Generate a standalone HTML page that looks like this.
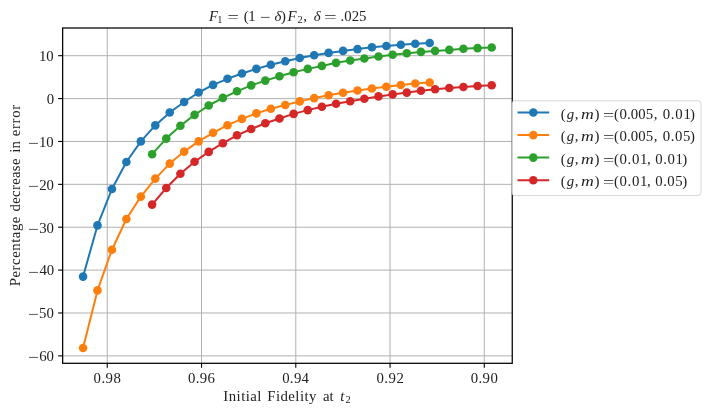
<!DOCTYPE html>
<html lang="en"><head><meta charset="utf-8"><title>Percentage decrease in error vs initial fidelity</title>
<style>
html,body{margin:0;padding:0;background:#fff;}
body{width:710px;height:413px;overflow:hidden;}
svg{display:block;will-change:transform;}
text{font-family:"Liberation Serif",serif;font-size:14.8px;fill:#222;}
.it{font-style:italic;}
.grid line{stroke:#b0b0b0;stroke-width:0.99;}
.tick line{stroke:#000;stroke-width:1.1;}
</style></head><body>
<svg width="710" height="413" viewBox="0 0 710 413">
<rect x="0" y="0" width="710" height="413" fill="#ffffff"/>
<g class="grid">
<line x1="107.27" y1="28.0" x2="107.27" y2="363.3"/>
<line x1="201.55" y1="28.0" x2="201.55" y2="363.3"/>
<line x1="295.8" y1="28.0" x2="295.8" y2="363.3"/>
<line x1="390.05" y1="28.0" x2="390.05" y2="363.3"/>
<line x1="484.3" y1="28.0" x2="484.3" y2="363.3"/>
<line x1="62.5" y1="55.7" x2="512.5" y2="55.7"/>
<line x1="62.5" y1="98.58" x2="512.5" y2="98.58"/>
<line x1="62.5" y1="141.46" x2="512.5" y2="141.46"/>
<line x1="62.5" y1="184.34" x2="512.5" y2="184.34"/>
<line x1="62.5" y1="227.22" x2="512.5" y2="227.22"/>
<line x1="62.5" y1="270.1" x2="512.5" y2="270.1"/>
<line x1="62.5" y1="312.98" x2="512.5" y2="312.98"/>
<line x1="62.5" y1="355.86" x2="512.5" y2="355.86"/>
</g>
<g class="tick">
<line x1="107.27" y1="363.3" x2="107.27" y2="367.7"/>
<line x1="201.55" y1="363.3" x2="201.55" y2="367.7"/>
<line x1="295.8" y1="363.3" x2="295.8" y2="367.7"/>
<line x1="390.05" y1="363.3" x2="390.05" y2="367.7"/>
<line x1="484.3" y1="363.3" x2="484.3" y2="367.7"/>
<line x1="58.1" y1="55.7" x2="62.5" y2="55.7"/>
<line x1="58.1" y1="98.58" x2="62.5" y2="98.58"/>
<line x1="58.1" y1="141.46" x2="62.5" y2="141.46"/>
<line x1="58.1" y1="184.34" x2="62.5" y2="184.34"/>
<line x1="58.1" y1="227.22" x2="62.5" y2="227.22"/>
<line x1="58.1" y1="270.1" x2="62.5" y2="270.1"/>
<line x1="58.1" y1="312.98" x2="62.5" y2="312.98"/>
<line x1="58.1" y1="355.86" x2="62.5" y2="355.86"/>
</g>
<g id="series">
<polyline points="83.06,276.60 97.50,225.40 111.95,189.00 126.39,162.00 140.83,141.40 155.28,125.40 169.72,112.50 184.16,102.00 198.60,92.50 213.05,84.90 227.49,78.80 241.93,73.50 256.38,68.90 270.82,64.80 285.26,61.30 299.70,58.00 314.15,55.20 328.59,52.90 343.03,50.90 357.48,49.10 371.92,47.30 386.36,46.05 400.81,44.80 415.25,43.80 429.69,43.00" fill="none" stroke="#1f77b4" stroke-width="2.0" stroke-linejoin="round" stroke-linecap="round"/>
<g fill="#1f77b4">
<circle cx="83.06" cy="276.60" r="4.3"/>
<circle cx="97.50" cy="225.40" r="4.3"/>
<circle cx="111.95" cy="189.00" r="4.3"/>
<circle cx="126.39" cy="162.00" r="4.3"/>
<circle cx="140.83" cy="141.40" r="4.3"/>
<circle cx="155.28" cy="125.40" r="4.3"/>
<circle cx="169.72" cy="112.50" r="4.3"/>
<circle cx="184.16" cy="102.00" r="4.3"/>
<circle cx="198.60" cy="92.50" r="4.3"/>
<circle cx="213.05" cy="84.90" r="4.3"/>
<circle cx="227.49" cy="78.80" r="4.3"/>
<circle cx="241.93" cy="73.50" r="4.3"/>
<circle cx="256.38" cy="68.90" r="4.3"/>
<circle cx="270.82" cy="64.80" r="4.3"/>
<circle cx="285.26" cy="61.30" r="4.3"/>
<circle cx="299.70" cy="58.00" r="4.3"/>
<circle cx="314.15" cy="55.20" r="4.3"/>
<circle cx="328.59" cy="52.90" r="4.3"/>
<circle cx="343.03" cy="50.90" r="4.3"/>
<circle cx="357.48" cy="49.10" r="4.3"/>
<circle cx="371.92" cy="47.30" r="4.3"/>
<circle cx="386.36" cy="46.05" r="4.3"/>
<circle cx="400.81" cy="44.80" r="4.3"/>
<circle cx="415.25" cy="43.80" r="4.3"/>
<circle cx="429.69" cy="43.00" r="4.3"/>
</g>
<polyline points="83.06,348.00 97.50,290.40 111.95,249.70 126.39,219.00 140.83,196.60 155.28,178.60 169.72,163.60 184.16,151.60 198.60,141.40 213.05,132.80 227.49,125.20 241.93,118.90 256.38,113.40 270.82,108.80 285.26,105.00 299.70,101.40 314.15,98.10 328.59,95.30 343.03,92.80 357.48,90.50 371.92,88.50 386.36,86.70 400.81,85.00 415.25,83.50 429.69,82.50" fill="none" stroke="#ff7f0e" stroke-width="2.0" stroke-linejoin="round" stroke-linecap="round"/>
<g fill="#ff7f0e">
<circle cx="83.06" cy="348.00" r="4.3"/>
<circle cx="97.50" cy="290.40" r="4.3"/>
<circle cx="111.95" cy="249.70" r="4.3"/>
<circle cx="126.39" cy="219.00" r="4.3"/>
<circle cx="140.83" cy="196.60" r="4.3"/>
<circle cx="155.28" cy="178.60" r="4.3"/>
<circle cx="169.72" cy="163.60" r="4.3"/>
<circle cx="184.16" cy="151.60" r="4.3"/>
<circle cx="198.60" cy="141.40" r="4.3"/>
<circle cx="213.05" cy="132.80" r="4.3"/>
<circle cx="227.49" cy="125.20" r="4.3"/>
<circle cx="241.93" cy="118.90" r="4.3"/>
<circle cx="256.38" cy="113.40" r="4.3"/>
<circle cx="270.82" cy="108.80" r="4.3"/>
<circle cx="285.26" cy="105.00" r="4.3"/>
<circle cx="299.70" cy="101.40" r="4.3"/>
<circle cx="314.15" cy="98.10" r="4.3"/>
<circle cx="328.59" cy="95.30" r="4.3"/>
<circle cx="343.03" cy="92.80" r="4.3"/>
<circle cx="357.48" cy="90.50" r="4.3"/>
<circle cx="371.92" cy="88.50" r="4.3"/>
<circle cx="386.36" cy="86.70" r="4.3"/>
<circle cx="400.81" cy="85.00" r="4.3"/>
<circle cx="415.25" cy="83.50" r="4.3"/>
<circle cx="429.69" cy="82.50" r="4.3"/>
</g>
<polyline points="152.10,154.20 166.25,138.60 180.40,125.70 194.55,114.85 208.70,105.50 222.85,97.90 237.00,91.30 251.15,85.40 265.30,80.60 279.45,76.30 293.60,72.20 307.75,68.90 321.90,65.90 336.05,62.85 350.20,60.50 364.35,58.50 378.50,56.50 392.65,54.70 406.80,53.20 420.95,51.90 435.10,50.90 449.25,49.90 463.40,48.80 477.55,48.10 491.70,47.45" fill="none" stroke="#2ca02c" stroke-width="2.0" stroke-linejoin="round" stroke-linecap="round"/>
<g fill="#2ca02c">
<circle cx="152.10" cy="154.20" r="4.3"/>
<circle cx="166.25" cy="138.60" r="4.3"/>
<circle cx="180.40" cy="125.70" r="4.3"/>
<circle cx="194.55" cy="114.85" r="4.3"/>
<circle cx="208.70" cy="105.50" r="4.3"/>
<circle cx="222.85" cy="97.90" r="4.3"/>
<circle cx="237.00" cy="91.30" r="4.3"/>
<circle cx="251.15" cy="85.40" r="4.3"/>
<circle cx="265.30" cy="80.60" r="4.3"/>
<circle cx="279.45" cy="76.30" r="4.3"/>
<circle cx="293.60" cy="72.20" r="4.3"/>
<circle cx="307.75" cy="68.90" r="4.3"/>
<circle cx="321.90" cy="65.90" r="4.3"/>
<circle cx="336.05" cy="62.85" r="4.3"/>
<circle cx="350.20" cy="60.50" r="4.3"/>
<circle cx="364.35" cy="58.50" r="4.3"/>
<circle cx="378.50" cy="56.50" r="4.3"/>
<circle cx="392.65" cy="54.70" r="4.3"/>
<circle cx="406.80" cy="53.20" r="4.3"/>
<circle cx="420.95" cy="51.90" r="4.3"/>
<circle cx="435.10" cy="50.90" r="4.3"/>
<circle cx="449.25" cy="49.90" r="4.3"/>
<circle cx="463.40" cy="48.80" r="4.3"/>
<circle cx="477.55" cy="48.10" r="4.3"/>
<circle cx="491.70" cy="47.45" r="4.3"/>
</g>
<polyline points="152.10,204.60 166.25,188.00 180.40,173.70 194.55,161.80 208.70,151.90 222.85,143.20 237.00,135.30 251.15,129.00 265.30,123.30 279.45,118.50 293.60,113.90 307.75,110.10 321.90,106.80 336.05,103.75 350.20,101.20 364.35,98.70 378.50,96.40 392.65,94.40 406.80,92.60 420.95,90.80 435.10,89.30 449.25,88.00 463.40,87.00 477.55,86.00 491.70,85.20" fill="none" stroke="#d62728" stroke-width="2.0" stroke-linejoin="round" stroke-linecap="round"/>
<g fill="#d62728">
<circle cx="152.10" cy="204.60" r="4.3"/>
<circle cx="166.25" cy="188.00" r="4.3"/>
<circle cx="180.40" cy="173.70" r="4.3"/>
<circle cx="194.55" cy="161.80" r="4.3"/>
<circle cx="208.70" cy="151.90" r="4.3"/>
<circle cx="222.85" cy="143.20" r="4.3"/>
<circle cx="237.00" cy="135.30" r="4.3"/>
<circle cx="251.15" cy="129.00" r="4.3"/>
<circle cx="265.30" cy="123.30" r="4.3"/>
<circle cx="279.45" cy="118.50" r="4.3"/>
<circle cx="293.60" cy="113.90" r="4.3"/>
<circle cx="307.75" cy="110.10" r="4.3"/>
<circle cx="321.90" cy="106.80" r="4.3"/>
<circle cx="336.05" cy="103.75" r="4.3"/>
<circle cx="350.20" cy="101.20" r="4.3"/>
<circle cx="364.35" cy="98.70" r="4.3"/>
<circle cx="378.50" cy="96.40" r="4.3"/>
<circle cx="392.65" cy="94.40" r="4.3"/>
<circle cx="406.80" cy="92.60" r="4.3"/>
<circle cx="420.95" cy="90.80" r="4.3"/>
<circle cx="435.10" cy="89.30" r="4.3"/>
<circle cx="449.25" cy="88.00" r="4.3"/>
<circle cx="463.40" cy="87.00" r="4.3"/>
<circle cx="477.55" cy="86.00" r="4.3"/>
<circle cx="491.70" cy="85.20" r="4.3"/>
</g>
</g>
<rect x="62.65" y="28.0" width="449.60" height="335.30" fill="none" stroke="#000" stroke-width="1.25"/>
<g id="xticklabels">
<text x="93.61" y="382.60" textLength="27.23" lengthAdjust="spacing">0.98</text>
<text x="187.89" y="382.60" textLength="27.10" lengthAdjust="spacing">0.96</text>
<text x="282.14" y="382.60" textLength="26.89" lengthAdjust="spacing">0.94</text>
<text x="376.39" y="382.60" textLength="27.48" lengthAdjust="spacing">0.92</text>
<text x="470.64" y="382.60" textLength="27.23" lengthAdjust="spacing">0.90</text>
</g>
<g id="yticklabels">
<text x="38.88" y="61.00">10</text>
<text x="46.75" y="103.88">0</text>
<text x="38.88" y="146.76">10</text>
<text transform="translate(27.84 147.87) scale(1.307 1)" x="0" y="0">−</text>
<text x="39.21" y="189.64">20</text>
<text transform="translate(27.84 190.75) scale(1.307 1)" x="0" y="0">−</text>
<text x="39.18" y="232.52">30</text>
<text transform="translate(27.84 233.63) scale(1.307 1)" x="0" y="0">−</text>
<text x="39.39" y="275.40">40</text>
<text transform="translate(27.84 276.51) scale(1.307 1)" x="0" y="0">−</text>
<text x="39.10" y="318.28">50</text>
<text transform="translate(27.84 319.39) scale(1.307 1)" x="0" y="0">−</text>
<text x="39.21" y="361.16">60</text>
<text transform="translate(27.84 362.27) scale(1.307 1)" x="0" y="0">−</text>
</g>
<g id="title">
<text x="209.01" y="20.80" class="it">F</text>
<text x="217.31" y="23.00" style="font-size:10.4px">1</text>
<text transform="translate(227.39 22.01) scale(1.365 1)" x="0" y="0">=</text>
<text x="243.80" y="20.80">(</text>
<text x="248.19" y="20.80">1</text>
<text transform="translate(259.87 22.01) scale(1.263 1)" x="0" y="0">−</text>
<text x="274.45" y="20.80" class="it">δ</text>
<text x="281.07" y="20.80">)</text>
<text x="287.41" y="20.80" class="it">F</text>
<text x="297.41" y="23.00" style="font-size:10.4px">2</text>
<text x="303.28" y="20.80">,</text>
<text x="313.65" y="20.80" class="it">δ</text>
<text transform="translate(323.89 22.01) scale(1.510 1)" x="0" y="0">=</text>
<text x="340.62" y="20.80" textLength="25.85" lengthAdjust="spacing">.025</text>
</g>
<g id="xlabel">
<text x="223.37" y="400.90" textLength="38.03" lengthAdjust="spacing">Initial</text>
<text x="267.37" y="400.90" textLength="48.98" lengthAdjust="spacing">Fidelity</text>
<text x="322.94" y="400.90">at</text>
<text x="340.37" y="400.90" class="it">t</text>
<text x="345.61" y="403.40" style="font-size:10.4px">2</text>
</g>
<g id="ylabel" transform="translate(19.8 285.8) rotate(-90)">
<text x="-0.43" y="0.00" textLength="69.64" lengthAdjust="spacing">Percentage</text>
<text x="74.27" y="0.00" textLength="53.05" lengthAdjust="spacing">decrease</text>
<text x="133.10" y="0.00">in</text>
<text x="149.62" y="0.00" textLength="31.31" lengthAdjust="spacing">error</text>
</g>
<g id="legend">
<rect x="512" y="100.75" width="189" height="94.8" rx="3" ry="3" fill="#ffffff" fill-opacity="0.8" stroke="#cccccc" stroke-opacity="0.8" stroke-width="0.99"/>
<line x1="518.5" y1="112.5" x2="548.2" y2="112.5" stroke="#1f77b4" stroke-width="2.0" stroke-linecap="square"/>
<circle cx="533.3" cy="112.5" r="4.3" fill="#1f77b4"/>
<text x="560.80" y="118.50">(</text>
<text x="566.66" y="118.50" class="it">g</text>
<text x="574.78" y="118.50">,</text>
<text transform="translate(580.94 118.50) scale(1.200 1)" x="0" y="0" class="it">m</text>
<text x="594.52" y="118.50">)</text>
<text transform="translate(603.10 119.71) scale(1.350 1)" x="0" y="0">=</text>
<text x="614.10" y="118.50">(</text>
<text x="619.54" y="118.50" textLength="33.74" lengthAdjust="spacing">0.005</text>
<text x="653.68" y="118.50">,</text>
<text x="662.64" y="118.50" textLength="28.15" lengthAdjust="spacing">0.01</text>
<text x="689.92" y="118.50">)</text>
<line x1="518.5" y1="135.1" x2="548.2" y2="135.1" stroke="#ff7f0e" stroke-width="2.0" stroke-linecap="square"/>
<circle cx="533.3" cy="135.1" r="4.3" fill="#ff7f0e"/>
<text x="560.80" y="141.07">(</text>
<text x="566.66" y="141.07" class="it">g</text>
<text x="574.78" y="141.07">,</text>
<text transform="translate(580.94 141.07) scale(1.200 1)" x="0" y="0" class="it">m</text>
<text x="594.52" y="141.07">)</text>
<text transform="translate(603.10 142.28) scale(1.350 1)" x="0" y="0">=</text>
<text x="614.10" y="141.07">(</text>
<text x="619.54" y="141.07" textLength="33.74" lengthAdjust="spacing">0.005</text>
<text x="653.68" y="141.07">,</text>
<text x="662.64" y="141.07" textLength="27.84" lengthAdjust="spacing">0.05</text>
<text x="689.92" y="141.07">)</text>
<line x1="518.5" y1="157.6" x2="548.2" y2="157.6" stroke="#2ca02c" stroke-width="2.0" stroke-linecap="square"/>
<circle cx="533.3" cy="157.6" r="4.3" fill="#2ca02c"/>
<text x="560.80" y="163.64">(</text>
<text x="566.66" y="163.64" class="it">g</text>
<text x="574.78" y="163.64">,</text>
<text transform="translate(580.94 163.64) scale(1.200 1)" x="0" y="0" class="it">m</text>
<text x="594.52" y="163.64">)</text>
<text transform="translate(603.10 164.85) scale(1.350 1)" x="0" y="0">=</text>
<text x="614.10" y="163.64">(</text>
<text x="619.54" y="163.64" textLength="27.85" lengthAdjust="spacing">0.01</text>
<text x="646.93" y="163.64">,</text>
<text x="655.24" y="163.64" textLength="27.75" lengthAdjust="spacing">0.01</text>
<text x="682.32" y="163.64">)</text>
<line x1="518.5" y1="180.2" x2="548.2" y2="180.2" stroke="#d62728" stroke-width="2.0" stroke-linecap="square"/>
<circle cx="533.3" cy="180.2" r="4.3" fill="#d62728"/>
<text x="560.80" y="186.21">(</text>
<text x="566.66" y="186.21" class="it">g</text>
<text x="574.78" y="186.21">,</text>
<text transform="translate(580.94 186.21) scale(1.200 1)" x="0" y="0" class="it">m</text>
<text x="594.52" y="186.21">)</text>
<text transform="translate(603.10 187.42) scale(1.350 1)" x="0" y="0">=</text>
<text x="614.10" y="186.21">(</text>
<text x="619.54" y="186.21" textLength="27.85" lengthAdjust="spacing">0.01</text>
<text x="646.93" y="186.21">,</text>
<text x="655.24" y="186.21" textLength="27.44" lengthAdjust="spacing">0.05</text>
<text x="682.32" y="186.21">)</text>
</g>
</svg>
</body></html>
